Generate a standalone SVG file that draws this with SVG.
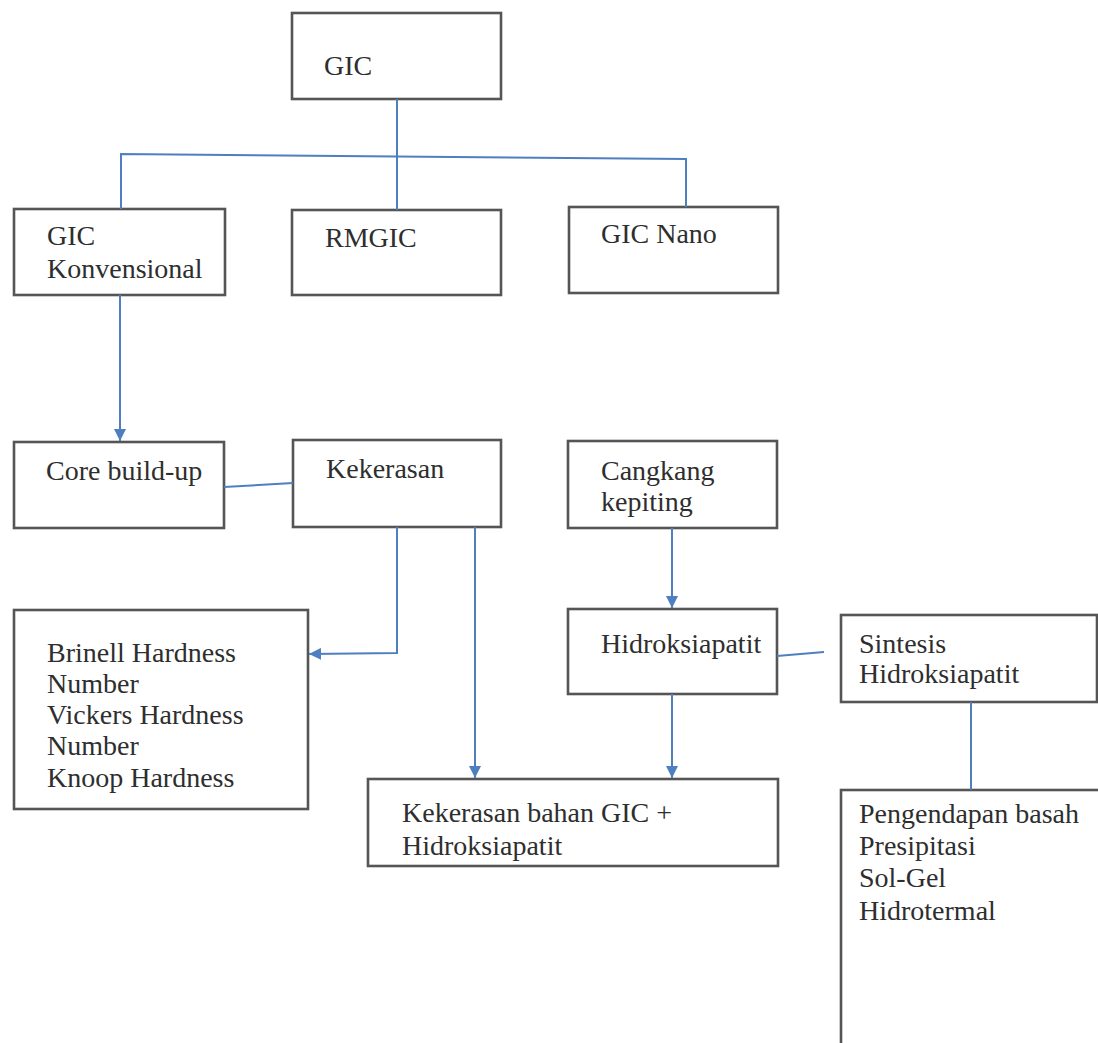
<svg xmlns="http://www.w3.org/2000/svg" width="1098" height="1043" viewBox="0 0 1098 1043">
  <style>
    .box { fill: #ffffff; stroke: #555555; stroke-width: 2.6; }
    .lbl { font-family: "Liberation Serif", "Times New Roman", serif; font-size: 28px; fill: #2e2e2e; }
    .con { fill: none; stroke: #4f7fbf; stroke-width: 2; }
  </style>
  <defs>
    <marker id="arr" markerUnits="userSpaceOnUse" markerWidth="12" markerHeight="12" viewBox="0 0 10 10" refX="10" refY="5" orient="auto">
      <path d="M0,0 L10,5 L0,10 z" fill="#4f7fbf"/>
    </marker>
  </defs>
  <rect width="1098" height="1043" fill="#ffffff"/>

  <g id="n-gic">
    <rect class="box" x="292" y="13" width="209" height="86"/>
    <text class="lbl" x="324" y="75">GIC</text>
  </g>
  <g id="n-gic-konvensional">
    <rect class="box" x="14" y="209" width="211" height="86"/>
    <text class="lbl" x="47" y="245">GIC</text>
    <text class="lbl" x="47" y="278">Konvensional</text>
  </g>
  <g id="n-rmgic">
    <rect class="box" x="292" y="210" width="209" height="85"/>
    <text class="lbl" x="325" y="247">RMGIC</text>
  </g>
  <g id="n-gic-nano">
    <rect class="box" x="569" y="207" width="209" height="86"/>
    <text class="lbl" x="601" y="243">GIC Nano</text>
  </g>
  <g id="n-core">
    <rect class="box" x="14" y="442" width="210" height="86"/>
    <text class="lbl" x="46" y="480">Core build-up</text>
  </g>
  <g id="n-kekerasan">
    <rect class="box" x="293" y="440" width="208" height="87"/>
    <text class="lbl" x="326" y="478">Kekerasan</text>
  </g>
  <g id="n-cangkang">
    <rect class="box" x="568" y="441" width="209" height="87"/>
    <text class="lbl" x="601" y="480">Cangkang</text>
    <text class="lbl" x="601" y="511">kepiting</text>
  </g>
  <g id="n-hardness">
    <rect class="box" x="14" y="610" width="294" height="199"/>
    <text class="lbl" x="47" y="662">Brinell Hardness</text>
    <text class="lbl" x="47" y="693">Number</text>
    <text class="lbl" x="47" y="724">Vickers Hardness</text>
    <text class="lbl" x="47" y="755">Number</text>
    <text class="lbl" x="47" y="787">Knoop Hardness</text>
  </g>
  <g id="n-hidroksiapatit">
    <rect class="box" x="568" y="609" width="209" height="85"/>
    <text class="lbl" x="601" y="653">Hidroksiapatit</text>
  </g>
  <g id="n-sintesis">
    <rect class="box" x="841" y="615" width="256" height="87"/>
    <text class="lbl" x="859" y="653">Sintesis</text>
    <text class="lbl" x="859" y="683">Hidroksiapatit</text>
  </g>
  <g id="n-kekerasan-bahan">
    <rect class="box" x="368" y="779" width="410" height="87"/>
    <text class="lbl" x="402" y="822">Kekerasan bahan GIC +</text>
    <text class="lbl" x="402" y="855">Hidroksiapatit</text>
  </g>
  <g id="n-metode">
    <rect class="box" x="841" y="790" width="270" height="270"/>
    <text class="lbl" x="859" y="823">Pengendapan basah</text>
    <text class="lbl" x="859" y="855">Presipitasi</text>
    <text class="lbl" x="859" y="887">Sol-Gel</text>
    <text class="lbl" x="859" y="920">Hidrotermal</text>
  </g>

  <g id="connectors">
    <path class="con" d="M397,99 L397,210"/>
    <path class="con" d="M121,209 L121,154 L686,159 L686,207"/>
    <path class="con" d="M120,295 L120,441" marker-end="url(#arr)"/>
    <path class="con" d="M224,487 L293,483"/>
    <path class="con" d="M397,527 L397,653 L309,654" marker-end="url(#arr)"/>
    <path class="con" d="M475,527 L475,778" marker-end="url(#arr)"/>
    <path class="con" d="M672,528 L672,608" marker-end="url(#arr)"/>
    <path class="con" d="M672,694 L672,778" marker-end="url(#arr)"/>
    <path class="con" d="M777,656 L824,652"/>
    <path class="con" d="M971,702 L971,790"/>
  </g>
</svg>
